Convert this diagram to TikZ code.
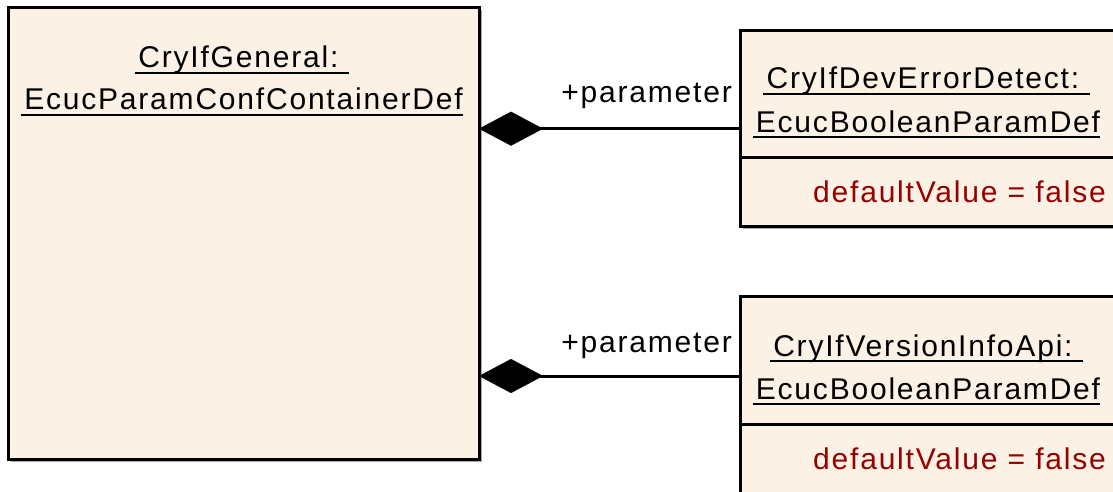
\documentclass[tikz,border=0pt]{standalone}
\usepackage{fontspec}
\setmainfont{Liberation Sans}[LetterSpace=6]
\usetikzlibrary{arrows.meta}
\definecolor{boxfill}{RGB}{251,241,228}
\definecolor{attr}{RGB}{150,0,0}
\definecolor{shade}{RGB}{170,170,170}
\tikzset{
  umlbox/.style={draw=black, fill=boxfill, line width=3pt, rectangle, inner sep=0pt, outer sep=0pt},
  shadowbox/.style={fill=shade, draw=none},
  txt/.style={anchor=base, inner sep=0pt, font=\fontsize{30}{36}\selectfont},
  uline/.style={line width=2pt},
  sepline/.style={line width=3pt},
  comp/.style={line width=3pt, {Diamond[length=64pt,width=34pt,line width=0.1pt]}-},
}
\begin{document}
\begin{tikzpicture}[x=1pt,y=-1pt]
\useasboundingbox (0,0) rectangle (1113,492);
\clip (0,0) rectangle (1113,492);
% shadows
\fill[shadowbox] (10.5,10.5) rectangle (481.5,461.5);
\fill[shadowbox] (742.5,33) rectangle (1130,229);
% boxes
\node[umlbox, minimum width=471pt, minimum height=451pt, anchor=north west] (gen) at (8,8) {};
\node[umlbox, minimum width=390pt, minimum height=196pt, anchor=north west] (dev) at (740,30.7) {};
\node[umlbox, minimum width=390pt, minimum height=260pt, anchor=north west] (ver) at (740,296.7) {};
% compartment separators
\draw[sepline] (dev.west |- 0,157) -- (dev.east |- 0,157);
\draw[sepline] (ver.west |- 0,424) -- (ver.east |- 0,424);
% left box title
\node[txt] (g1) at (243.5,68) {CryIfGeneral:\ \mbox{}};
\node[txt] (g2) at (243.5,110) {EcucParamConfContainerDef};
\draw[uline] ([xshift=-3pt,yshift=-5pt]g1.base west) -- ([yshift=-5pt]g1.base east);
\draw[uline] ([xshift=-3pt,yshift=-5pt]g2.base west) -- ([yshift=-5pt]g2.base east);
% top right box
\node[txt] (d1) at (928,89) {CryIfDevErrorDetect:\ \mbox{}};
\node[txt] (d2) at (928,132) {EcucBooleanParamDef};
\draw[uline] ([xshift=-3pt,yshift=-5pt]d1.base west) -- ([yshift=-5pt]d1.base east);
\draw[uline] ([xshift=-3pt,yshift=-5pt]d2.base west) -- ([yshift=-5pt]d2.base east);
\node[txt, anchor=base west, text=attr] (d3) at (813,202) {defaultValue = false};
% bottom right box
\node[txt] (v1) at (928,356) {CryIfVersionInfoApi:\ \mbox{}};
\node[txt] (v2) at (928,399) {EcucBooleanParamDef};
\draw[uline] ([xshift=-3pt,yshift=-5pt]v1.base west) -- ([yshift=-5pt]v1.base east);
\draw[uline] ([xshift=-3pt,yshift=-5pt]v2.base west) -- ([yshift=-5pt]v2.base east);
\node[txt, anchor=base west, text=attr] (v3) at (813,469) {defaultValue = false};
% connectors
\coordinate (c1) at (dev.west);
\coordinate (c2) at (740,376);
\draw[comp] (gen.east |- c1) -- (c1);
\draw[comp] (gen.east |- c2) -- (c2);
\node[txt, anchor=base east] (l1) at (732,103) {+parameter};
\node[txt, anchor=base east] (l2) at (732,352) {+parameter};
\end{tikzpicture}
\end{document}
